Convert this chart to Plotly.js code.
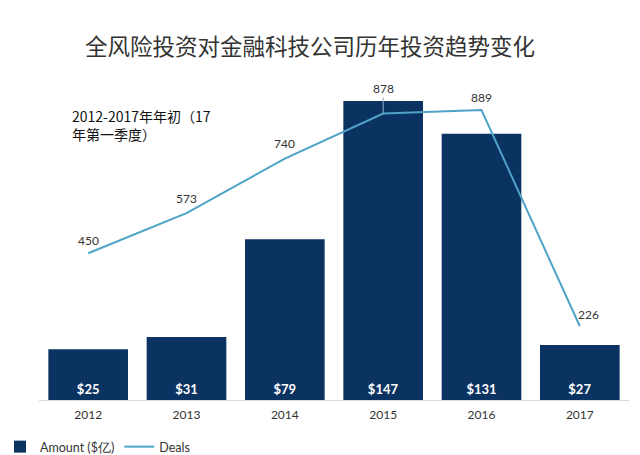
<!DOCTYPE html>
<html><head><meta charset="utf-8">
<script src="https://cdn.plot.ly/plotly-3.0.1.min.js"></script>
<style>html,body{margin:0;padding:0;background:#fff;}#c{width:640px;height:455px;}</style>
</head><body><div id="c"></div>
<script>
const years = ['2012','2013','2014','2015','2016','2017'];
const amounts = [25, 31, 79, 147, 131, 27];
const amountLabels = ['$25','$31','$79','$147','$131','$27'];
const deals = [450, 573, 740, 878, 889, 226];
const dealLabels = ['450','573','740','878','889','226'];

const barColor = '#0b3362';
const lineColor = '#4ea3c6';
const yshift = [13, 15, 15, 25, 13, 12];
const xshift = [0, 0, 0, 0, 0, 9];

const annotations = years.map((yr, i) => ({
  x: i, y: deals[i], xref: 'x', yref: 'y2',
  text: dealLabels[i], showarrow: false,
  yshift: yshift[i], xshift: xshift[i],
  font: {family: 'Lato, sans-serif', size: 12, color: '#333'}
}));
annotations[3].showarrow = true;
annotations[3].yshift = 0;
annotations[3].ax = 0; annotations[3].ay = -25;
annotations[3].arrowhead = 0; annotations[3].arrowwidth = 1;
annotations[3].arrowcolor = '#8fb3cc';

annotations.push({
  xref: 'paper', yref: 'paper', x: (70-39)/590, y: 1 + (95-104)/305,
  xanchor: 'left', yanchor: 'top', align: 'left', showarrow: false,
  text: '2012-2017年年初（17<br>年第一季度）',
  font: {family: '"Noto Sans CJK SC", sans-serif', size: 14, color: '#111'}
});

const data = [
  {type: 'bar', x: years, y: amounts, name: 'Amount ($亿)',
   marker: {color: barColor}, text: amountLabels,
   textposition: 'inside', insidetextanchor: 'start', constraintext: 'none',
   textfont: {family: 'Lato, sans-serif', size: 13, color: '#fff', weight: 'bold'},
   hoverinfo: 'skip'},
  {type: 'scatter', mode: 'lines', x: years, y: deals, yaxis: 'y2', name: 'Deals',
   line: {color: lineColor, width: 2}, hoverinfo: 'skip'}
];

const layout = {
  width: 640, height: 455,
  margin: {l: 39, r: 11, t: 95, b: 55},
  paper_bgcolor: '#fff', plot_bgcolor: '#fff',
  title: {text: '全风险投资对金融科技公司历年投资趋势变化',
    x: 310/640, xanchor: 'center', xref: 'container',
    y: 1 - 47/455, yanchor: 'middle', yref: 'container',
    font: {family: '"Noto Sans CJK SC", sans-serif', size: 22.5, color: '#333'}},
  bargap: 0.19,
  xaxis: {type: 'category', range: [-0.5, 5.5], autorange: false,
    showline: true, linecolor: '#d9d9d9', linewidth: 1,
    ticks: '', showgrid: false, zeroline: false, ticklabelstandoff: 4,
    tickfont: {family: 'Lato, sans-serif', size: 12, color: '#333'}},
  yaxis: {range: [0, 150], autorange: false, visible: false, showgrid: false, zeroline: false},
  yaxis2: {range: [0, 935], autorange: false, overlaying: 'y', side: 'right', visible: false,
    showgrid: false, zeroline: false},
  showlegend: true,
  legend: {orientation: 'h', xref: 'container', yref: 'container',
    x: -8/640, y: 1 - 447/455, xanchor: 'left', yanchor: 'middle',
    font: {family: 'Lato, sans-serif', size: 12.5, color: '#333'},
    itemwidth: 30, tracegroupgap: 0},
  annotations: annotations
};

Plotly.newPlot('c', data, layout, {displayModeBar: false, staticPlot: true});
</script></body></html>
